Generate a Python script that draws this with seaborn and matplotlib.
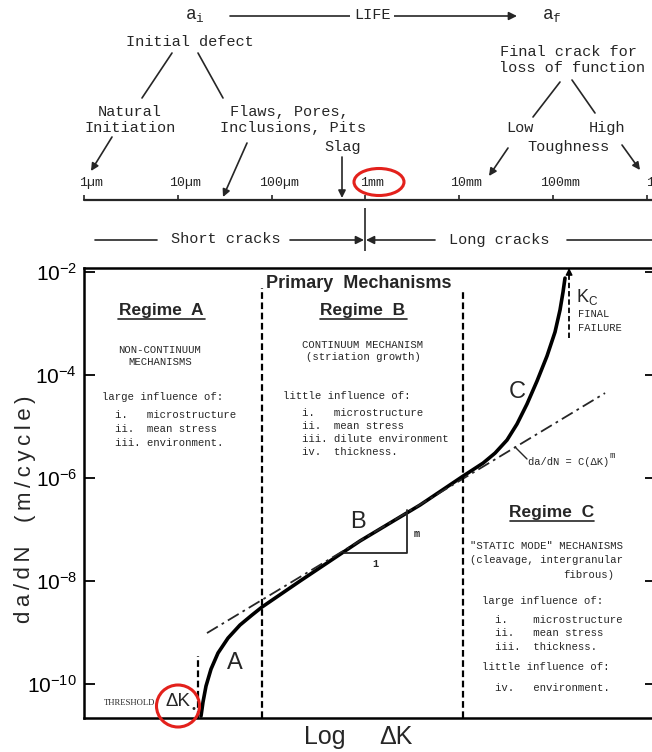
import numpy as np
import pandas as pd
import matplotlib
matplotlib.use("Agg")
import matplotlib.pyplot as plt
import seaborn as sns
from matplotlib.transforms import Affine2D, offset_copy
from matplotlib.lines import Line2D
from matplotlib.patches import Ellipse, FancyArrowPatch
from matplotlib.ticker import NullLocator

# ---------------- data ----------------
# crack growth curve: log(dK) in arbitrary units, da/dN in m/cycle
curve_log_dk = [2.060, 2.095, 2.148, 2.236, 2.359, 2.535, 2.746, 2.958, 3.134, 3.803,
                4.859, 5.915, 6.673, 7.025, 7.236, 7.447, 7.623, 7.799, 7.975, 8.151,
                8.292, 8.380, 8.433, 8.468]
curve_dadn = [2.39e-11, 4.47e-11, 9.14e-11, 1.95e-10, 4.0e-10, 7.8e-10, 1.40e-9, 2.19e-9,
              3.13e-9, 1.0e-8, 6.0e-8, 2.99e-7, 1.09e-6, 1.95e-6, 3.05e-6, 5.47e-6,
              1.12e-5, 2.74e-5, 7.64e-5, 2.34e-4, 6.84e-4, 1.83e-3, 4.09e-3, 7.64e-3]
# Paris law extension  da/dN = C(dK)^m
paris_log_dk = [2.165, 9.173]
paris_dadn = [9.77e-10, 4.47e-5]
# regime boundaries (threshold, A/B, B/C) and their upper ends
boundary_log_dk = [2.007, 3.134, 6.673]
boundary_top = [3.50e-10, 4.89e-3, 4.47e-3]
# Kc final failure
kc_log_dk = 8.54
kc_start = 5.22e-4
# slope triangle (1 : m)
tri_log_dk = [4.577, 5.687, 5.687]
tri_dadn = [3.50e-8, 3.50e-8, 2.39e-7]
# y axis
ytick_values = [1e-2, 1e-4, 1e-6, 1e-8, 1e-10]
y_limits = (2.19e-11, 1.20e-2)
# crack-size scale (m)
crack_sizes = [1e-6, 1e-5, 1e-4, 1e-3, 1e-2, 1e-1, 1.0]
crack_labels = ["1µm", "10µm", "100µm", "1mm", "10mm", "100mm", "1m"]
short_long_divide = 1e-3

# ---------------- style ----------------
sns.set_style("white")
plt.rcParams["font.family"] = ["Liberation Sans", "DejaVu Sans"]
plt.rcParams["mathtext.fontset"] = "custom"
plt.rcParams["mathtext.rm"] = "Liberation Sans"
plt.rcParams["mathtext.sf"] = "Liberation Sans"
plt.rcParams["mathtext.it"] = "Liberation Sans:italic"
plt.rcParams["mathtext.tt"] = "Liberation Mono"

W, H = 652, 752
fig = plt.figure(figsize=(W / 100, H / 100), dpi=100)
PX = Affine2D().scale(1 / W, -1 / H).translate(0, 1) + fig.transFigure

MONO = ["Liberation Mono", "DejaVu Sans Mono"]
SANS = ["Liberation Sans", "DejaVu Sans"]
INK = "#262626"
RED = "#e3211c"
TS = "\u2009"  # thin space for the widely spaced lettering


def ptext(x, y, s, **kw):
    kw.setdefault("ha", "center")
    kw.setdefault("va", "center")
    return fig.text(x, y, s, transform=PX, **kw)


def mtext(x, y, s, size=7.7, **kw):
    kw.setdefault("ha", "left")
    return ptext(x, y, s, family=MONO, fontsize=size, color=INK, **kw)


def pline(xs, ys, **kw):
    kw.setdefault("color", INK)
    kw.setdefault("lw", 1.2)
    fig.add_artist(Line2D(xs, ys, transform=PX, **kw))


def parrow(x0, y0, x1, y1, ms=11, lw=1.2):
    fig.add_artist(FancyArrowPatch((x0, y0), (x1, y1), transform=PX,
                                   arrowstyle="-|>", mutation_scale=ms,
                                   color=INK, lw=lw, shrinkA=0, shrinkB=0))


def spaced(s):
    return TS.join(list(s))


# ---------------- main da/dN axes ----------------
ax = fig.add_axes([84 / W, 1 - 718 / H, (656 - 84) / W, 450 / H])
ax.set_yscale("log")
ax.set_xlim(0, 10.07)
ax.set_ylim(*y_limits)

df_curve = pd.DataFrame({"logdk": curve_log_dk, "dadn": curve_dadn})
sns.lineplot(data=df_curve, x="logdk", y="dadn", ax=ax, color="black", lw=2.6,
             sort=False, estimator=None)
df_paris = pd.DataFrame({"logdk": paris_log_dk, "dadn": paris_dadn})
sns.lineplot(data=df_paris, x="logdk", y="dadn", ax=ax, color=INK, lw=1.3,
             linestyle=(0, (7, 2.5, 1.5, 2.5)), estimator=None)
df_tri = pd.DataFrame({"logdk": tri_log_dk, "dadn": tri_dadn})
sns.lineplot(data=df_tri, x="logdk", y="dadn", ax=ax, color=INK, lw=1.3,
             sort=False, estimator=None)

ax.vlines(boundary_log_dk, y_limits[0], boundary_top, colors="black",
          linestyles=[(0, (3, 1.6))], lw=1.6)
ax.vlines([kc_log_dk], kc_start, y_limits[1], colors="black",
          linestyles=[(0, (3, 1.6))], lw=1.3)
ax.annotate("", xy=(kc_log_dk, y_limits[1]), xytext=(kc_log_dk, y_limits[1] * 0.75),
            arrowprops=dict(arrowstyle="-|>", color="black", lw=1, mutation_scale=10,
                            shrinkA=0, shrinkB=0))

ax.set_yticks(ytick_values)
ax.yaxis.set_minor_locator(NullLocator())
ax.set_xticks([])
ax.tick_params(axis="y", which="major", direction="in", length=8, width=1.3,
               left=True, right=True, labelsize=15, pad=5, colors="black")
ax.set_xlabel("")
ax.set_ylabel("")
for s in ax.spines.values():
    s.set_visible(True)
    s.set_linewidth(1.8)
    s.set_color("black")

# axis titles (wide, letter-spaced lettering)
ptext(325, 737, "Log", fontsize=18, family=SANS)
ptext(396, 737, "ΔK", fontsize=18, family=SANS)
ptext(25, 584, spaced("da/dN"), fontsize=16, rotation=90, family=SANS)
ptext(25, 459, spaced("(m/cycle)"), fontsize=16, rotation=90, family=SANS)

# ---------------- annotations inside plot ----------------
ptext(359, 283, "Primary  Mechanisms", fontsize=13, weight="bold")
for cx, cy, lab, x0, x1 in [(161, 310, "Regime  A", 118, 205),
                            (363, 310, "Regime  B", 320, 407),
                            (552, 512, "Regime  C", 510, 594)]:
    ptext(cx, cy, lab, fontsize=12.5, weight="bold")
    pline([x0, x1], [cy + 9, cy + 9], lw=1.2)

# Regime A
ptext(160, 350, "NON-CONTINUUM", family=MONO, fontsize=7.7, color=INK)
ptext(160, 362, "MECHANISMS", family=MONO, fontsize=7.7, color=INK)
mtext(102, 397, "large influence of:")
mtext(115, 415, "i.   microstructure")
mtext(115, 429, "ii.  mean stress")
mtext(115, 443, "iii. environment.")

# Regime B
ptext(363, 345, "CONTINUUM MECHANISM", family=MONO, fontsize=7.7, color=INK)
ptext(363, 357, "(striation growth)", family=MONO, fontsize=7.7, color=INK)
mtext(283, 396, "little influence of:")
mtext(302, 413, "i.   microstructure")
mtext(302, 426, "ii.  mean stress")
mtext(302, 439, "iii. dilute environment")
mtext(302, 452, "iv.  thickness.")

# Regime C
mtext(470, 546, '"STATIC MODE" MECHANISMS')
mtext(470, 560, "(cleavage, intergranular")
mtext(614, 575, "fibrous)", ha="right")
mtext(482, 601, "large influence of:")
mtext(495, 620, "i.    microstructure")
mtext(495, 633, "ii.   mean stress")
mtext(495, 647, "iii.  thickness.")
mtext(482, 667, "little influence of:")
mtext(495, 688, "iv.   environment.")

# Kc
ptext(577, 297, "K", fontsize=13, ha="left")
ptext(588, 302, "C", fontsize=8.5, ha="left")
mtext(578, 314, "FINAL", size=7.5)
mtext(578, 328, "FAILURE", size=7.5)

# Paris law label
mtext(528, 462, "da/dN = C(ΔK)", size=7.5)
mtext(610, 456, "m", size=6.5)
pline([515, 527], [447, 459], lw=1.0)

# curve labels
ptext(235, 663, "A", fontsize=17)
ptext(358, 522, "B", fontsize=17)
ptext(517, 392, "C", fontsize=17)
mtext(414, 534, "m", size=7.5, weight="bold")
mtext(375, 564, "1", size=7.5, weight="bold", ha="center")

# threshold
ptext(130, 703, "THRESHOLD", family=["Liberation Serif"], fontsize=6.2, color=INK)
ptext(178, 702, "ΔK", fontsize=13.5)
ptext(194, 709, "•", fontsize=8)
fig.add_artist(Ellipse((178, 706), 43, 42, transform=PX, fill=False, ec=RED, lw=2.2))

# ---------------- top crack-size schematic ----------------
axt = fig.add_axes([0, 1 - 255 / H, 1, 255 / H])
axt.set_xscale("log")
axt.set_xlim(10 ** -6.8955, 10 ** 0.0554)
axt.set_ylim(255, 0)
axt.set_axis_off()
axt.plot([crack_sizes[0], 10 ** 0.0554], [200, 200], color=INK, lw=1.6)
axt.vlines(crack_sizes, 195, 200, color=INK, lw=1.2)
axt.vlines([short_long_divide], 208, 251, color=INK, lw=1.2)
lab_tr = offset_copy(axt.transData, fig=fig, x=7, y=0, units="dots")
for xs, lab in zip(crack_sizes, crack_labels):
    axt.text(xs, 183, lab, transform=lab_tr, ha="center", va="center",
             family=MONO, fontsize=9.5, color=INK)
fig.add_artist(Ellipse((379, 182), 50, 27, transform=PX, fill=False, ec=RED, lw=2.2))

# LIFE line
ptext(195, 15, r"$\mathtt{a_i}$", fontsize=13, color=INK)
ptext(552, 15, r"$\mathtt{a_f}$", fontsize=13, color=INK)
parrow(230, 16, 517, 16, ms=12)
ptext(372, 15, "LIFE", family=MONO, fontsize=11, color=INK,
      bbox=dict(fc="white", ec="none", pad=3))

# initial defect tree
ptext(190, 42, "Initial defect", family=MONO, fontsize=11, color=INK)
pline([172, 142], [53, 98])
pline([198, 223], [53, 98])
ptext(130, 112, "Natural", family=MONO, fontsize=11, color=INK)
ptext(130, 128, "Initiation", family=MONO, fontsize=11, color=INK)
mtext(230, 112, "Flaws, Pores,", size=11)
mtext(220, 128, "Inclusions, Pits", size=11)
ptext(343, 147, "Slag", family=MONO, fontsize=11, color=INK)
parrow(112, 137, 91, 171)
parrow(247, 143, 223, 197)
parrow(342, 157, 342, 198)

# final crack tree
ptext(568, 52, "Final crack for", family=MONO, fontsize=11, color=INK)
ptext(572, 68, "loss of function", family=MONO, fontsize=11, color=INK)
pline([560, 533], [82, 117])
pline([572, 595], [80, 113])
ptext(520, 128, "Low", family=MONO, fontsize=11, color=INK)
ptext(607, 128, "High", family=MONO, fontsize=11, color=INK)
ptext(568, 147, "Toughness", family=MONO, fontsize=11, color=INK)
parrow(508, 148, 489, 176)
parrow(622, 145, 640, 170)

# short / long cracks
pline([95, 157], [240, 240])
ptext(226, 239, "Short cracks", family=MONO, fontsize=11, color=INK)
parrow(290, 240, 364, 240, ms=12)
parrow(435, 240, 366, 240, ms=12)
ptext(499, 240, "Long cracks", family=MONO, fontsize=11, color=INK)
pline([567, 652], [240, 240])

fig.savefig("out.png", dpi=100)
